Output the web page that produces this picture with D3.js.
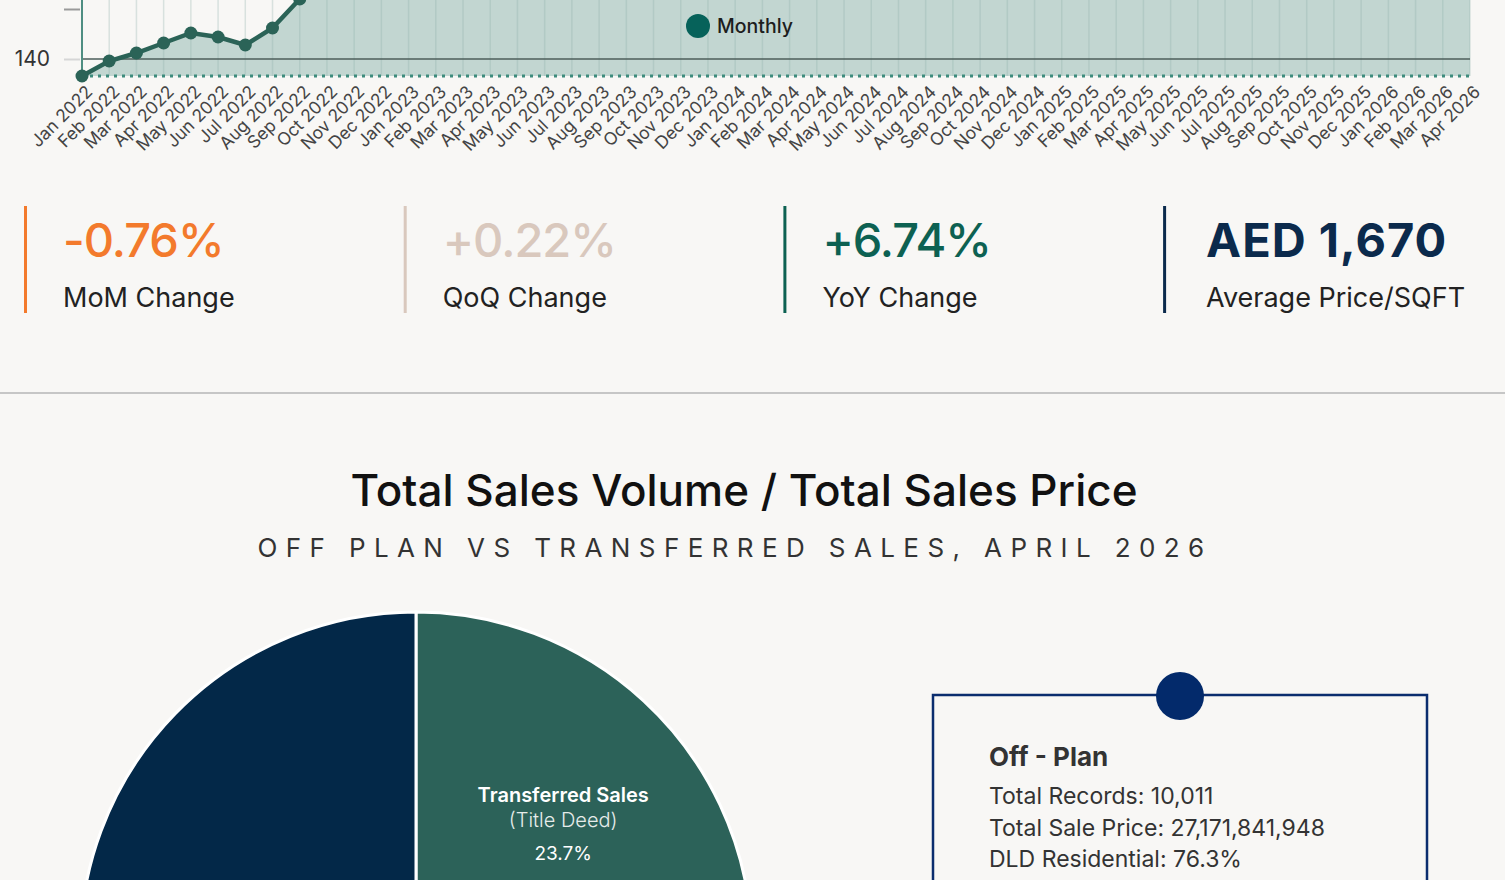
<!DOCTYPE html>
<html lang="en">
<head>
<meta charset="utf-8">
<title>Average Price / Sales split</title>
<script src="https://d3js.org/d3.v7.min.js"></script>
<style>
  body { margin: 0; background: #f8f7f5; overflow: hidden; }
  svg { display: block; font-family: Inter, "Noto Sans", sans-serif; }
</style>
</head>
<body>
<script>
// ---- data ----
var months = ["Jan 2022","Feb 2022","Mar 2022","Apr 2022","May 2022","Jun 2022","Jul 2022","Aug 2022","Sep 2022","Oct 2022","Nov 2022","Dec 2022",
  "Jan 2023","Feb 2023","Mar 2023","Apr 2023","May 2023","Jun 2023","Jul 2023","Aug 2023","Sep 2023","Oct 2023","Nov 2023","Dec 2023",
  "Jan 2024","Feb 2024","Mar 2024","Apr 2024","May 2024","Jun 2024","Jul 2024","Aug 2024","Sep 2024","Oct 2024","Nov 2024","Dec 2024",
  "Jan 2025","Feb 2025","Mar 2025","Apr 2025","May 2025","Jun 2025","Jul 2025","Aug 2025","Sep 2025","Oct 2025","Nov 2025","Dec 2025",
  "Jan 2026","Feb 2026","Mar 2026","Apr 2026"];
var monthly = [136.6,139.6,141.2,143.2,145.2,144.4,142.8,146.2,152.0,155.0,156.5,157.8,
  158.4,159.6,160.8,161.5,162.3,161.8,162.9,163.8,164.1,163.5,162.4,161.0,
  159.8,158.9,158.2,157.5,156.8,156.1,155.9,156.4,157.0,157.8,158.3,158.9,
  157.8,157.0,156.6,156.5,157.9,159.4,160.8,162.0,163.5,164.8,165.7,166.3,
  166.6,167.4,168.3,167.0];
var yTicks = [140, 150];
var yLabelled = [140];

var kpiValues = ["-0.76%", "+0.22%", "+6.74%", "AED 1,670"];
var kpiLabels = ["MoM Change", "QoQ Change", "YoY Change", "Average Price/SQFT"];
var kpiColors = ["#f37a2c", "#d9c8bd", "#0d6152", "#0b2a4c"];

var pieNames = ["Transferred Sales", "Off - Plan"];
var pieSubs = ["(Title Deed)", "(Oqood)"];
var pieShares = [23.7, 76.3];
var pieColors = ["#2c6259", "#032848"];

var offPlanLines = ["Total Records: 10,011", "Total Sale Price: 27,171,841,948", "DLD Residential: 76.3%"];

// ---- page ----
var W = 1505, H = 880;
var svg = d3.select("body").append("svg")
    .attr("width", W)
    .attr("height", H);

svg.append("rect").attr("width", W).attr("height", H).attr("fill", "#f8f7f5");

// line chart (page is scrolled, top part out of view)
var x = d3.scalePoint().domain(months).range([82, 1470]);
var yMin = d3.min(monthly), yMax = 176;
var y = d3.scaleLinear().domain([yMin, yMax]).range([76, 76 - (yMax - yMin) * 5]);

var chart = svg.append("g");

chart.append("path")
    .datum(monthly)
    .attr("fill", "#c2d6d1")
    .attr("d", d3.area()
        .x(function (d, i) { return x(months[i]); })
        .y0(y(yMin))
        .y1(function (d) { return y(d); }));

// vertical grid
chart.selectAll(".vgrid")
    .data(months)
    .enter().append("line")
    .attr("x1", function (d) { return x(d); })
    .attr("x2", function (d) { return x(d); })
    .attr("y1", y(yMax))
    .attr("y2", y(yMin))
    .attr("stroke", "#8fb1a8")
    .attr("stroke-opacity", 0.3)
    .attr("stroke-width", 1.5);

// horizontal line at labelled tick
chart.selectAll(".hgrid")
    .data(yLabelled)
    .enter().append("line")
    .attr("x1", x(months[0]))
    .attr("x2", x(months[months.length - 1]))
    .attr("y1", function (d) { return y(d); })
    .attr("y2", function (d) { return y(d); })
    .attr("stroke", "#4d5e5a")
    .attr("stroke-width", 1.5);

// dotted baseline
chart.append("line")
    .attr("x1", x(months[0]))
    .attr("x2", x(months[months.length - 1]))
    .attr("y1", y(yMin)).attr("y2", y(yMin))
    .attr("stroke", "#3d8b7d")
    .attr("stroke-width", 3)
    .attr("stroke-dasharray", "3,5");

// y axis
var yAxis = chart.append("g")
    .attr("transform", "translate(80,0)")
    .call(d3.axisLeft(y).tickValues(yTicks).tickSize(16).tickPadding(14)
        .tickFormat(function (d) { return yLabelled.indexOf(d) >= 0 ? d : ""; }));
yAxis.select(".domain").remove();
yAxis.selectAll(".tick line")
    .attr("stroke", function (d) { return yLabelled.indexOf(d) >= 0 ? "#d6d6d6" : "#9a9a9a"; })
    .attr("stroke-width", 2);
yAxis.selectAll(".tick text")
    .filter(function (d) { return yLabelled.indexOf(d) < 0; })
    .remove();
yAxis.selectAll(".tick text")
    .attr("fill", "#333")
    .style("font-size", "21px")
    .style("font-family", "Inter, sans-serif");

chart.append("line")
    .attr("x1", 82).attr("x2", 82)
    .attr("y1", y(yMax)).attr("y2", y(yMin))
    .attr("stroke", "#4f8e82")
    .attr("stroke-width", 2);

// x axis labels
var xAxis = chart.append("g")
    .attr("transform", "translate(0," + y(yMin) + ")")
    .call(d3.axisBottom(x).tickSize(0));
xAxis.select(".domain").remove();
xAxis.selectAll(".tick text")
    .attr("y", 0).attr("dy", 0)
    .attr("transform", "translate(11,17) rotate(-45)")
    .attr("text-anchor", "end")
    .attr("fill", "#444")
    .style("font-size", "17.5px")
    .style("font-family", "Inter, sans-serif");

// line + dots
chart.append("path")
    .datum(monthly)
    .attr("fill", "none")
    .attr("stroke", "#2b6357")
    .attr("stroke-width", 4.5)
    .attr("d", d3.line()
        .x(function (d, i) { return x(months[i]); })
        .y(function (d) { return y(d); }));

chart.selectAll(".dot")
    .data(monthly)
    .enter().append("circle")
    .attr("cx", function (d, i) { return x(months[i]); })
    .attr("cy", function (d) { return y(d); })
    .attr("r", 6.5)
    .attr("fill", "#2b6357");

// legend
var legend = chart.append("g").attr("transform", "translate(698,26)");
legend.append("circle").attr("r", 12).attr("fill", "#06625a");
legend.append("text").attr("x", 19).attr("y", 7)
    .attr("fill", "#1d1d1d")
    .style("font-size", "19.5px").style("font-weight", 500)
    .text("Monthly");

// ---- KPI row ----
var kpi = svg.selectAll(".kpi")
    .data(kpiValues)
    .enter().append("g")
    .attr("transform", function (d, i) { return "translate(" + (24 + i * 379.7) + ",0)"; });
kpi.append("rect")
    .attr("y", 206).attr("width", 3).attr("height", 107)
    .attr("fill", function (d, i) { return kpiColors[i]; });
kpi.append("text")
    .attr("x", function (d, i) { return i == 3 ? 43 : 39; })
    .attr("y", 257)
    .attr("fill", function (d, i) { return kpiColors[i]; })
    .style("font-size", "47px")
    .style("font-weight", function (d, i) { return i == 3 ? 700 : 500; })
    .style("letter-spacing", function (d, i) { return i == 3 ? "1px" : "-1px"; })
    .text(function (d) { return d; });
kpi.append("text")
    .attr("x", function (d, i) { return i == 3 ? 43 : 39; })
    .attr("y", 307)
    .attr("fill", "#222")
    .style("font-size", "27px")
    .text(function (d, i) { return kpiLabels[i]; });

svg.append("line")
    .attr("x1", 0).attr("x2", W)
    .attr("y1", 393).attr("y2", 393)
    .attr("stroke", "#c6c6c6").attr("stroke-width", 2);

// ---- pie section ----
svg.append("text")
    .attr("x", 744).attr("y", 506)
    .attr("text-anchor", "middle")
    .attr("fill", "#111")
    .style("font-size", "44px").style("font-weight", 500)
    .text("Total Sales Volume / Total Sales Price");
svg.append("text")
    .attr("x", 735).attr("y", 557)
    .attr("text-anchor", "middle")
    .attr("fill", "#333")
    .style("font-size", "26px")
    .style("letter-spacing", "8.4px")
    .text("OFF PLAN VS TRANSFERRED SALES, APRIL 2026");

var R = 336;
var pieG = svg.append("g").attr("transform", "translate(416,948)");
var arcs = d3.pie().sort(null)(pieShares);
var arc = d3.arc().innerRadius(0).outerRadius(R);
var labelArc = d3.arc().innerRadius(R * 0.62).outerRadius(R * 0.62);

pieG.selectAll(".slice")
    .data(arcs)
    .enter().append("path")
    .attr("d", arc)
    .attr("fill", function (d, i) { return pieColors[i]; })
    .attr("stroke", "#fff")
    .attr("stroke-width", 3);

// only the transferred slice label is inside the visible part of the page
var lab = pieG.selectAll(".plab")
    .data(arcs.slice(0, 1))
    .enter().append("g")
    .attr("transform", function (d) {
        var c = labelArc.centroid(d);
        return "translate(" + (c[0] + 6) + "," + (c[1] + 7) + ")";
    })
    .attr("text-anchor", "middle")
    .attr("fill", "#fff");
lab.append("text").attr("y", 0)
    .style("font-size", "20px").style("font-weight", 600)
    .text(function (d, i) { return pieNames[i]; });
lab.append("text").attr("y", 25)
    .attr("fill", "#e6ecea")
    .style("font-size", "20px").style("font-weight", 300)
    .text(function (d, i) { return pieSubs[i]; });
lab.append("text").attr("y", 58)
    .style("font-size", "19px")
    .text(function (d, i) { return pieShares[i] + "%"; });

// off-plan info box
var box = svg.append("g");
box.append("rect")
    .attr("x", 933).attr("y", 695)
    .attr("width", 494).attr("height", 300)
    .attr("fill", "none")
    .attr("stroke", "#0b2d6e").attr("stroke-width", 2.5);
box.append("circle").attr("cx", 1180).attr("cy", 696).attr("r", 24).attr("fill", "#032a6b");
box.append("text")
    .attr("x", 989).attr("y", 766)
    .attr("fill", "#333")
    .style("font-size", "26px").style("font-weight", 700)
    .text(pieNames[1]);
box.selectAll(".line")
    .data(offPlanLines)
    .enter().append("text")
    .attr("x", 989)
    .attr("y", function (d, i) { return 804 + i * 31.5; })
    .attr("fill", "#333")
    .style("font-size", "23px")
    .text(function (d) { return d; });
</script>
</body>
</html>
